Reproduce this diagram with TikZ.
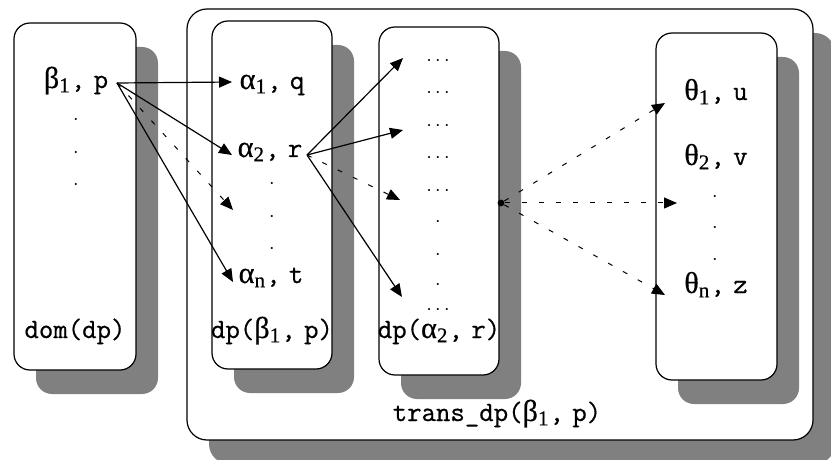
\documentclass[tikz,border=0pt]{standalone}
\usepackage{fontspec}
\usepackage{tikz}
\usetikzlibrary{arrows.meta, positioning, shadows}
\newfontfamily\greekfont[Scale=1.08, FakeBold=0.5]{Liberation Serif}
\newfontfamily\lblfont[FakeBold=0.6]{Latin Modern Mono}
\definecolor{shadowgray}{RGB}{128,128,128}
\newcommand{\gsym}[2]{{\greekfont #1}\textsubscript{\greekfont #2}}
\tikzset{
  setbox/.style={
    rectangle, rounded corners=8pt, draw=black, line width=0.6pt, fill=white,
    inner sep=0pt, outer sep=0pt,
    drop shadow={shadow xshift=11pt, shadow yshift=-12pt, fill=shadowgray, opacity=1}
  },
  outerbox/.style={setbox, rounded corners=10pt},
  lbl/.style={font=\fontsize{14}{16}\selectfont\lblfont, inner sep=0pt, anchor=base},
  dotrow/.style={font=\fontsize{10}{12}\selectfont, inner sep=0pt},
  hubdot/.style={circle, fill=black, inner sep=1.2pt},
  arrow/.style={-{Triangle[length=6.5pt, width=5.5pt]}, line width=0.6pt},
  dasharrow/.style={arrow, line width=0.5pt, dash pattern=on 2.5pt off 6pt}
}
\begin{document}
\begin{tikzpicture}[x=0.5pt, y=-0.5pt]
  \useasboundingbox (0,0) rectangle (831,460);

  % sets
  \node[outerbox, minimum width=313pt, minimum height=215.5pt] (trans) at (500,224.5) {};
  \node[setbox, minimum width=61pt, minimum height=173.5pt] (dom) at (75,196.5) {};
  \node[setbox, minimum width=60pt, minimum height=174pt] (dpb) at (272,195) {};
  \node[setbox, minimum width=60pt, minimum height=174pt] (dpa) at (439,201) {};
  \node[setbox, minimum width=60.5pt, minimum height=173.5pt] (th) at (716.5,206.5) {};

  % set names
  \node[lbl] (domname) at (75,338) {dom(dp)};
  \node[lbl] (dpbname) at (272,338) {dp(\gsym{β}{1},\hspace{-3pt} p)};
  \node[lbl] (dpaname) at (439,338) {dp(\gsym{α}{2},\hspace{-3pt} r)};
  \node[lbl] (transname) at (497,421) {trans\_dp(\gsym{β}{1},\hspace{-3pt} p)};

  % elements
  \node[lbl] (b1) at (76,88) {\gsym{β}{1},\hspace{-3pt} p};
  \node[dotrow] (bd1) at (76,120) {$\cdot$};
  \node[dotrow] (bd2) at (76,153) {$\cdot$};
  \node[dotrow] (bd3) at (76,185) {$\cdot$};

  \node[lbl] (a1) at (272,89) {\gsym{α}{1},\hspace{-3pt} q};
  \node[lbl] (a2) at (270,157) {\gsym{α}{2},\hspace{-3pt} r};
  \node[dotrow] (ad1) at (272,184) {$\cdot$};
  \node[dotrow] (ad2) at (272,217) {$\cdot$};
  \node[dotrow] (ad3) at (272,249) {$\cdot$};
  \node[lbl] (an) at (271,283) {\gsym{α}{n},\hspace{-3pt} t};

  \node[dotrow] (m1) at (438,61) {$\cdots$};
  \node[dotrow] (m2) at (438,93) {$\cdots$};
  \node[dotrow] (m3) at (438,126) {$\cdots$};
  \node[dotrow] (m4) at (438,158) {$\cdots$};
  \node[dotrow] (m5) at (438,191) {$\cdots$};
  \node[dotrow] (m6) at (438,222) {$\cdot$};
  \node[dotrow] (m7) at (438,255) {$\cdot$};
  \node[dotrow] (m8) at (438,285) {$\cdot$};
  \node[dotrow] (m9) at (438,310) {$\cdots$};

  \node[lbl] (t1) at (716,100) {\gsym{θ}{1},\hspace{-3pt} u};
  \node[lbl] (t2) at (716,165) {\gsym{θ}{2},\hspace{-3pt} v};
  \node[dotrow] (td1) at (715,197) {$\cdot$};
  \node[dotrow] (td2) at (715,228) {$\cdot$};
  \node[dotrow] (td3) at (715,260) {$\cdot$};
  \node[lbl] (tn) at (716,293) {\gsym{θ}{n},\hspace{-3pt} z};

  % arrow ends
  \coordinate (bsrc) at (117,83);
  \coordinate (a1in) at (232,82);
  \coordinate (a2in) at (232,155);
  \coordinate (agap) at (233,210);
  \coordinate (anin) at (233,282);
  \coordinate (asrc) at (307,155);
  \coordinate (m1in) at (403,58);
  \coordinate (m3in) at (403,130);
  \coordinate (m5in) at (400,200);
  \coordinate (m8in) at (402,297);
  \node[hubdot] (hub) at (501,203) {};
  \coordinate (t1in) at (665,103);
  \coordinate (t2in) at (677,203);
  \coordinate (tnin) at (665,295);

  \draw[arrow] (bsrc) -- (a1in);
  \draw[arrow] (bsrc) -- (a2in);
  \draw[dasharrow] (bsrc) -- (agap);
  \draw[arrow] (bsrc) -- (anin);

  \draw[arrow] (asrc) -- (m1in);
  \draw[arrow] (asrc) -- (m3in);
  \draw[dasharrow] (asrc) -- (m5in);
  \draw[arrow] (asrc) -- (m8in);

  \draw[dasharrow] (hub) -- (t1in);
  \draw[dasharrow] (hub) -- (t2in);
  \draw[dasharrow] (hub) -- (tnin);
\end{tikzpicture}
\end{document}
